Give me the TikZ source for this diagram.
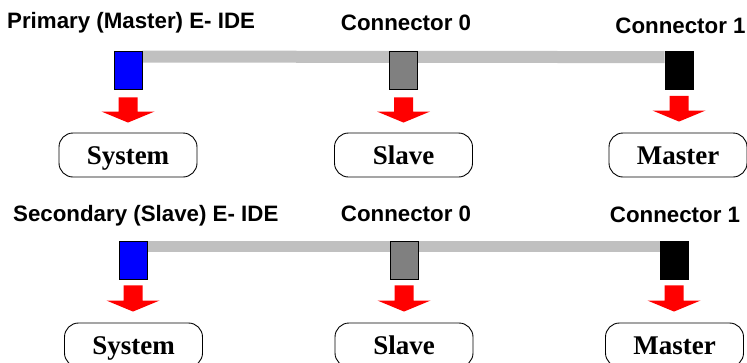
\documentclass[tikz,border=0pt]{standalone}
\usepackage{fontspec}
\setmainfont{Liberation Serif}
\newfontfamily\titlefont{Liberation Sans}
\usetikzlibrary{calc,backgrounds}
\definecolor{barc}{HTML}{C0C0C0}
\definecolor{conc}{HTML}{808080}
\definecolor{arrc}{HTML}{FF0000}
\definecolor{bluec}{HTML}{0000FF}
\tikzset{
  title/.style={inner sep=0pt,font=\titlefont\bfseries\fontsize{22.3}{26}\selectfont},
  plug/.style={draw=black,line width=0.8pt,minimum width=28pt,minimum height=38pt,inner sep=0pt},
  target/.style={draw=black,line width=0.9pt,rounded corners=14pt,minimum width=138pt,minimum height=44pt,inner sep=0pt,text height=18pt,text depth=0pt,font=\bfseries\fontsize{27}{31}\selectfont},
  cable/.style={barc,line cap=butt},
}
\newcommand\blockarrow[4]{% from node, to node, gap top, gap bottom
  \fill[arrc] let \p1=($(#1.south)+(0,#3)$), \p2=($(#2.north)+(0,-#4)$) in
    (\x1-9.5pt,\y1) -- (\x1+9.5pt,\y1) -- (\x1+9.5pt,\y2+11pt) -- (\x1+26.5pt,\y2+11pt)
    -- (\x1,\y2) -- (\x1-26.5pt,\y2+11pt) -- (\x1-9.5pt,\y2+11pt) -- cycle;}
\begin{document}
\begin{tikzpicture}[x=1pt,y=-1pt]
\useasboundingbox (0,0) rectangle (747,362);
\clip (0,0) rectangle (747,362);
% ---- top row ----
\node[title,anchor=base west] (t1) at (7,28.5) {Primary (Master) E- IDE};
\node[title,anchor=base] (t2) at (406,30) {Connector 0};
\node[title,anchor=base] (t3) at (680.5,33) {Connector 1};
\node[plug,fill=bluec] (a1) at (128,70) {};
\node[plug,fill=conc] (a2) at (403.5,70.5) {};
\node[plug,fill=black] (a3) at (679,70.5) {};
\begin{pgfonlayer}{background}
\draw[cable,line width=12pt] ($(a1.north east)+(0,6)$) -- ($(a3.north west)+(0,6)$);
\end{pgfonlayer}
\node[target] (s1) at (128,155) {System};
\node[target] (s2) at (403.5,155) {Slave};
\node[target] (s3) at (678,155) {Master};
\blockarrow{a1}{s1}{8}{10}
\blockarrow{a2}{s2}{7.5}{10}
\blockarrow{a3}{s3}{6}{11}
% ---- bottom row ----
\node[title,anchor=base west] (u1) at (13,221) {Secondary (Slave) E- IDE};
\node[title,anchor=base] (u2) at (406,221) {Connector 0};
\node[title,anchor=base] (u3) at (675,222.5) {Connector 1};
\node[plug,fill=bluec] (b1) at (133,260) {};
\node[plug,fill=conc] (b2) at (404,260) {};
\node[plug,fill=black] (b3) at (674,260) {};
\begin{pgfonlayer}{background}
\draw[cable,line width=11pt] ($(b1.north east)+(0,5.5)$) -- ($(b3.north west)+(0,5.5)$);
\end{pgfonlayer}
\node[target] (v1) at (133.5,345) {System};
\node[target] (v2) at (404,345) {Slave};
\node[target] (v3) at (674.5,345) {Master};
\blockarrow{b1}{v1}{6}{11}
\blockarrow{b2}{v2}{6}{11}
\blockarrow{b3}{v3}{6}{11}
\end{tikzpicture}
\end{document}
